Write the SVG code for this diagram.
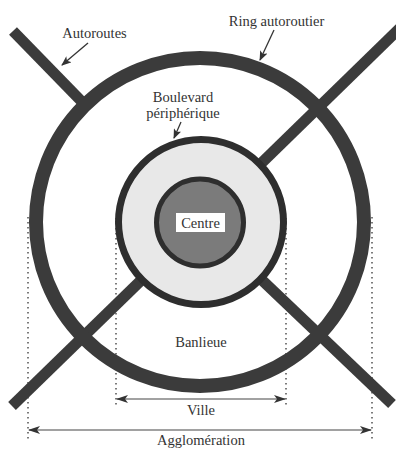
<svg xmlns="http://www.w3.org/2000/svg" width="396" height="449" viewBox="0 0 396 449">
<defs>
<style>
.road{stroke:#3b3b3b;stroke-width:11;stroke-linecap:butt;fill:none}
.dot{stroke:#444;stroke-width:1.4;stroke-dasharray:1.4 3.6;fill:none}
.dim{stroke:#444;stroke-width:1.2;fill:none}
.lab{font-family:"Liberation Serif","Times New Roman",serif;font-size:14.5px;fill:#333}
.ptr{stroke:#333;stroke-width:1.3;fill:none}
</style>
<marker id="ah" viewBox="0 0 12 8" refX="11" refY="4" markerWidth="12" markerHeight="8" markerUnits="userSpaceOnUse" orient="auto-start-reverse">
<path d="M0,0 L12,4 L0,8 L3,4 Z" fill="#333"/>
</marker>
<marker id="ph" viewBox="0 0 10 8" refX="9" refY="4" markerWidth="10" markerHeight="8" markerUnits="userSpaceOnUse" orient="auto">
<path d="M0,0 L10,4 L0,8 L2.5,4 Z" fill="#333"/>
</marker>
</defs>
<rect width="396" height="449" fill="#fff"/>
<g id="connectors">
<line class="dot" x1="28" y1="217" x2="28" y2="440"/>
<line class="dot" x1="372" y1="217" x2="372" y2="440"/>
<line class="dot" x1="116" y1="218" x2="116" y2="407"/>
<line class="dot" x1="286" y1="218" x2="286" y2="407"/>
<line class="dim" x1="117" y1="399" x2="285" y2="399" marker-start="url(#ah)" marker-end="url(#ah)"/>
<line class="dim" x1="29" y1="430" x2="371" y2="430" marker-start="url(#ah)" marker-end="url(#ah)"/>
<line class="ptr" x1="88" y1="43" x2="62" y2="65" marker-end="url(#ph)"/>
<line class="ptr" x1="274" y1="30" x2="260" y2="60" marker-end="url(#ph)"/>
<line class="ptr" x1="181" y1="122" x2="174" y2="138" marker-end="url(#ph)"/>
</g>
<g id="autoroutes">
<line class="road" x1="13" y1="31" x2="88" y2="108"/>
<line class="road" x1="400" y1="28" x2="201" y2="222"/>
<line class="road" x1="12" y1="406" x2="201" y2="222"/>
<line class="road" x1="392" y1="404" x2="201" y2="222"/>
</g>
<g id="ring">
<circle cx="200" cy="222" r="164" fill="none" stroke="#3b3b3b" stroke-width="14"/>
</g>
<g id="boulevard">
<circle cx="201" cy="222" r="82.5" fill="#e8e8e8" stroke="#2e2e2e" stroke-width="7"/>
</g>
<g id="centre">
<circle cx="200" cy="222.5" r="43.5" fill="#7b7b7b" stroke="#2e2e2e" stroke-width="5"/>
<rect x="176" y="213" width="49" height="19" fill="#fff"/>
<text class="lab" x="200.5" y="227.5" text-anchor="middle">Centre</text>
</g>
<g id="labels">
<text class="lab" x="94.5" y="38" text-anchor="middle">Autoroutes</text>
<text class="lab" x="276.5" y="26" text-anchor="middle">Ring autoroutier</text>
<text class="lab" x="183" y="102" text-anchor="middle">Boulevard</text>
<text class="lab" x="183" y="118" text-anchor="middle">périphérique</text>
<text class="lab" x="201" y="347" text-anchor="middle">Banlieue</text>
<text class="lab" x="201" y="415" text-anchor="middle">Ville</text>
<text class="lab" x="201" y="445" text-anchor="middle">Agglomération</text>
</g>
</svg>
